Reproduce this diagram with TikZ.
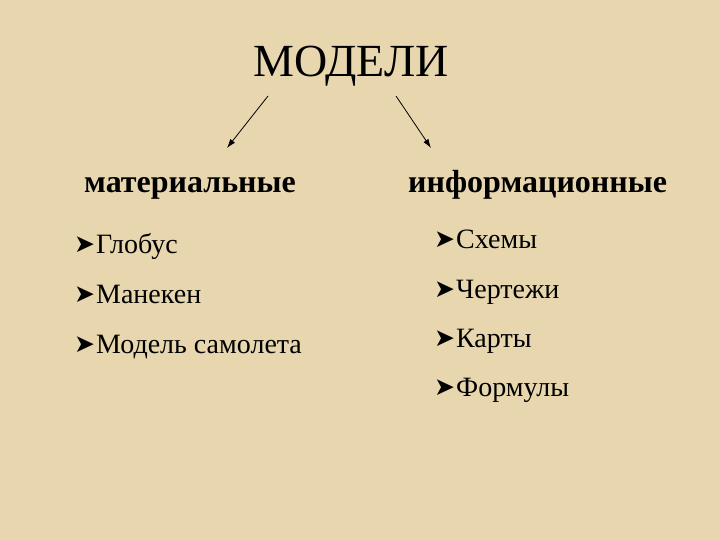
\documentclass[tikz,border=0pt]{standalone}
\usepackage{fontspec}
\setmainfont{Liberation Serif}
\newfontfamily\arrowfont{DejaVu Sans}
\usetikzlibrary{positioning}
\usetikzlibrary{arrows.meta}

\definecolor{paper}{RGB}{232,215,174}
\newcommand{\bul}{{\arrowfont\fontsize{25}{25}\selectfont\raisebox{0.5pt}{➤}}\kern1pt}

\tikzset{
  head/.style={anchor=base west, inner sep=0pt, font=\fontsize{32}{32}\selectfont\bfseries},
  entry/.style={anchor=base west, inner sep=0pt, font=\fontsize{28}{28}\selectfont}
}

\begin{document}
\begin{tikzpicture}[x=1pt,y=-1pt]

    % Background
    \fill[paper] (0,0) rectangle (720,540);

    % Title
    \node[anchor=base, inner sep=0pt, font=\fontsize{46}{46}\selectfont] (title) at (351,77) {МОДЕЛИ};

    % Headings
    \node[head] (mat) at (84,193) {материальные};
    \node[head] (inf) at (408,193) {информационные};

    % Left list
    \node[entry] (globe) at (74,253) {\bul Глобус};
    \node[entry] (dummy) at (74,303) {\bul Манекен};
    \node[entry] (plane) at (74,353) {\bul Модель самолета};

    % Right list
    \node[entry] (scheme) at (434,248) {\bul Схемы};
    \node[entry] (drawing) at (434,298) {\bul Чертежи};
    \node[entry] (map) at (434,347) {\bul Карты};
    \node[entry] (formula) at (434,396) {\bul Формулы};

    % Arrows
    \coordinate (ls) at (268,96);
    \coordinate (le) at (227,148);
    \coordinate (rs) at (396,96);
    \coordinate (re) at (431,148);
    \draw[-{Latex[length=9pt,width=6pt]},line width=0.8pt] (ls) -- (le);
    \draw[-{Latex[length=9pt,width=6pt]},line width=0.8pt] (rs) -- (re);
\end{tikzpicture}
\end{document}
